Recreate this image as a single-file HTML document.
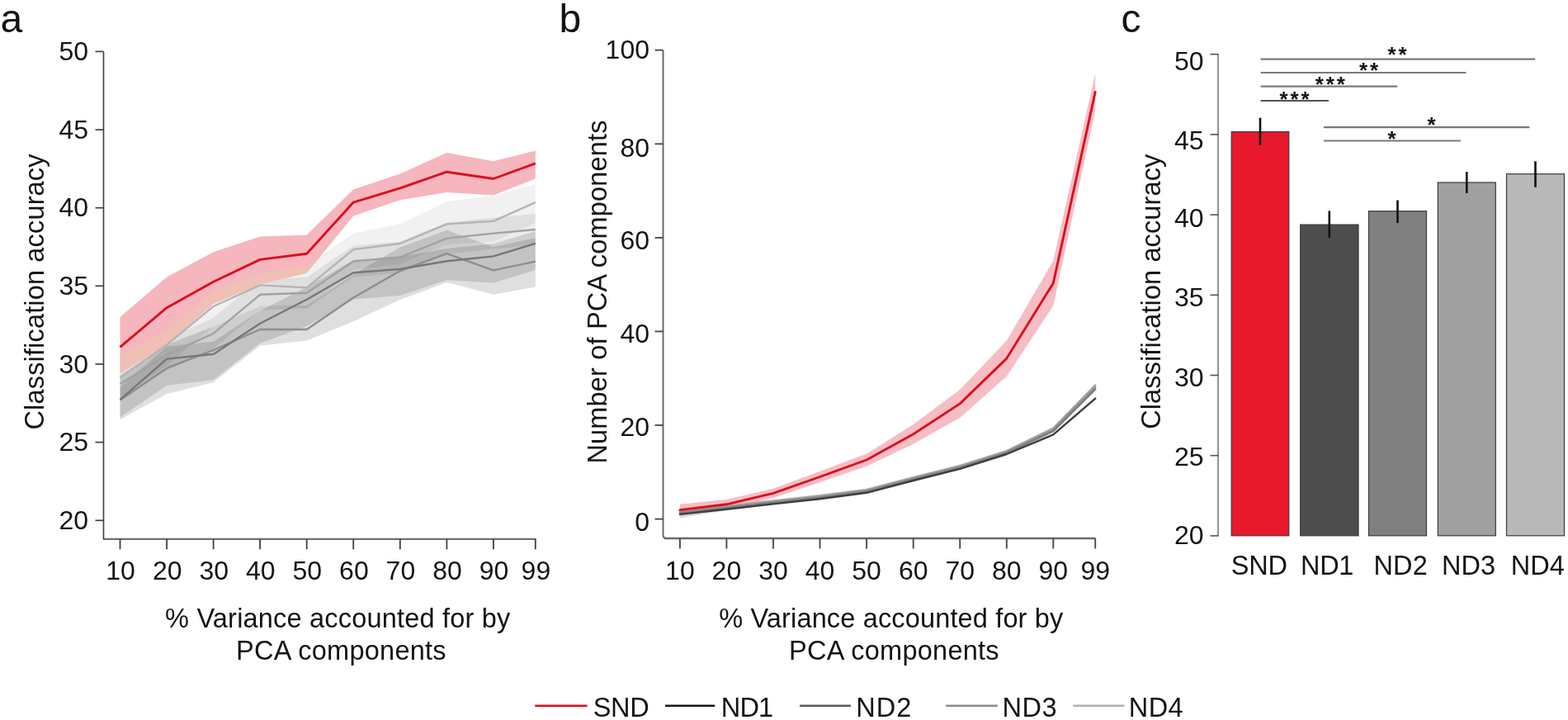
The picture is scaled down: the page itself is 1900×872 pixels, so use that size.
<!DOCTYPE html><html><head><meta charset="utf-8"><title>Figure</title>
<style>html,body{margin:0;padding:0;background:#fff;}svg{display:block;filter:blur(0.5px);}text{font-family:"Liberation Sans", Arial, sans-serif;fill:#141414;}</style></head><body>
<svg width="1900" height="872" viewBox="0 0 1900 872">
<rect width="1900" height="872" fill="#fff"/>
<text x="0.5" y="38.5" font-size="48">a</text>
<text x="677.5" y="38.8" font-size="48">b</text>
<text x="1358.5" y="38.5" font-size="48">c</text>
<defs><clipPath id="pk"><polygon points="145.5,384.0 202.1,335.6 258.6,305.3 315.1,286.5 371.7,284.4 428.2,229.6 484.8,210.4 541.4,184.9 597.9,195.3 648.8,182.6 648.8,216.5 597.9,236.6 541.4,233.0 484.8,242.2 428.2,261.5 371.7,330.8 315.1,344.1 258.6,368.1 202.1,417.0 145.5,452.2"/></clipPath></defs>
<g fill="#000">
<polygon points="145.5,469.0 202.1,419.4 258.6,413.7 315.1,376.6 371.7,347.7 428.2,315.1 484.8,310.8 541.4,301.1 597.9,295.2 648.8,279.7 648.8,327.0 597.9,342.6 541.4,339.2 484.8,358.1 428.2,362.4 371.7,395.0 315.1,415.8 258.6,460.1 202.1,466.7 145.5,505.4" fill-opacity="0.125"/>
<polygon points="145.5,456.1 202.1,417.5 258.6,395.6 315.1,370.6 371.7,370.6 428.2,332.2 484.8,299.6 541.4,278.8 597.9,299.0 648.8,288.2 648.8,347.5 597.9,356.8 541.4,342.0 484.8,363.0 428.2,389.3 371.7,412.6 315.1,418.7 258.6,463.0 202.1,477.0 145.5,508.2" fill-opacity="0.125"/>
<polygon points="145.5,445.9 202.1,410.7 258.6,385.0 315.1,337.8 371.7,335.7 428.2,297.5 484.8,292.6 541.4,269.7 597.9,263.6 648.8,259.1 648.8,296.9 597.9,301.5 541.4,307.5 484.8,330.4 428.2,335.4 371.7,373.6 315.1,375.7 258.6,422.8 202.1,448.6 145.5,483.8" fill-opacity="0.075"/>
<polygon points="145.5,429.6 202.1,402.2 258.6,351.5 315.1,331.2 371.7,321.7 428.2,282.4 484.8,271.2 541.4,244.1 597.9,237.1 648.8,222.7 648.8,269.7 597.9,292.4 541.4,296.0 484.8,319.7 428.2,326.7 371.7,373.0 315.1,370.0 258.6,395.6 202.1,442.3 145.5,481.7" fill-opacity="0.055"/>
</g>
<polygon points="145.5,384.0 202.1,335.6 258.6,305.3 315.1,286.5 371.7,284.4 428.2,229.6 484.8,210.4 541.4,184.9 597.9,195.3 648.8,182.6 648.8,216.5 597.9,236.6 541.4,233.0 484.8,242.2 428.2,261.5 371.7,330.8 315.1,344.1 258.6,368.1 202.1,417.0 145.5,452.2" fill="#f6b6be"/>
<g clip-path="url(#pk)"><polygon points="145.5,429.6 202.1,402.2 258.6,351.5 315.1,331.2 371.7,321.7 428.2,282.4 484.8,271.2 541.4,244.1 597.9,237.1 648.8,222.7 648.8,347.5 597.9,356.8 541.4,342.0 484.8,363.0 428.2,389.3 371.7,412.6 315.1,418.7 258.6,463.0 202.1,477.0 145.5,508.2" fill="#f0c0b6"/></g>
<g fill="none" stroke-width="2.4" stroke-linejoin="round">
<polyline points="145.5,457.1 202.1,417.7 258.6,371.0 315.1,345.4 371.7,348.4 428.2,302.1 484.8,295.0 541.4,271.4 597.9,267.8 648.8,245.1" stroke="#b4b4b4"/>
<polyline points="145.5,464.9 202.1,429.6 258.6,403.9 315.1,356.8 371.7,354.7 428.2,316.4 484.8,311.5 541.4,288.6 597.9,282.6 648.8,278.0" stroke="#a2a2a2"/>
<polyline points="145.5,484.5 202.1,445.9 258.6,424.0 315.1,399.0 371.7,399.0 428.2,360.5 484.8,328.0 541.4,307.2 597.9,327.4 648.8,316.6" stroke="#8e8e8e"/>
<polyline points="145.5,484.2 202.1,434.6 258.6,428.9 315.1,391.8 371.7,362.8 428.2,330.3 484.8,325.9 541.4,316.3 597.9,310.4 648.8,294.9" stroke="#777777"/>
<polyline points="145.5,420.4 202.1,372.7 258.6,341.2 315.1,314.4 371.7,307.2 428.2,245.1 484.8,227.8 541.4,208.2 597.9,216.5 648.8,197.9" stroke="#dc0f1e" stroke-width="2.9"/>
</g>
<g fill="none">
<path d="M125.5,652.9 H649.5" stroke="#707070" stroke-width="2.3"/>
<path d="M125.5,62.4 V653.5" stroke="#3c3c3c" stroke-width="1.6"/>
<path d="M115.5,630.3 H125.5" stroke="#404040" stroke-width="1.7"/>
<path d="M115.5,535.6 H125.5" stroke="#404040" stroke-width="1.7"/>
<path d="M115.5,441.0 H125.5" stroke="#404040" stroke-width="1.7"/>
<path d="M115.5,346.3 H125.5" stroke="#404040" stroke-width="1.7"/>
<path d="M115.5,251.7 H125.5" stroke="#404040" stroke-width="1.7"/>
<path d="M115.5,157.1 H125.5" stroke="#404040" stroke-width="1.7"/>
<path d="M115.5,62.4 H125.5" stroke="#404040" stroke-width="1.7"/>
<path d="M145.5,652.9 V665.3" stroke="#404040" stroke-width="1.8"/>
<path d="M202.1,652.9 V665.3" stroke="#404040" stroke-width="1.8"/>
<path d="M258.6,652.9 V665.3" stroke="#404040" stroke-width="1.8"/>
<path d="M315.1,652.9 V665.3" stroke="#404040" stroke-width="1.8"/>
<path d="M371.7,652.9 V665.3" stroke="#404040" stroke-width="1.8"/>
<path d="M428.2,652.9 V665.3" stroke="#404040" stroke-width="1.8"/>
<path d="M484.8,652.9 V665.3" stroke="#404040" stroke-width="1.8"/>
<path d="M541.4,652.9 V665.3" stroke="#404040" stroke-width="1.8"/>
<path d="M597.9,652.9 V665.3" stroke="#404040" stroke-width="1.8"/>
<path d="M648.8,652.9 V665.3" stroke="#404040" stroke-width="1.8"/>
</g>
<text x="107" y="641.0" font-size="32" text-anchor="end">20</text>
<text x="107" y="546.4" font-size="32" text-anchor="end">25</text>
<text x="107" y="451.7" font-size="32" text-anchor="end">30</text>
<text x="107" y="357.0" font-size="32" text-anchor="end">35</text>
<text x="107" y="262.4" font-size="32" text-anchor="end">40</text>
<text x="107" y="167.8" font-size="32" text-anchor="end">45</text>
<text x="107" y="73.1" font-size="32" text-anchor="end">50</text>
<text x="146.1" y="701.8" font-size="32" text-anchor="middle">10</text>
<text x="202.7" y="701.8" font-size="32" text-anchor="middle">20</text>
<text x="259.2" y="701.8" font-size="32" text-anchor="middle">30</text>
<text x="315.8" y="701.8" font-size="32" text-anchor="middle">40</text>
<text x="372.3" y="701.8" font-size="32" text-anchor="middle">50</text>
<text x="428.9" y="701.8" font-size="32" text-anchor="middle">60</text>
<text x="485.4" y="701.8" font-size="32" text-anchor="middle">70</text>
<text x="542.0" y="701.8" font-size="32" text-anchor="middle">80</text>
<text x="598.5" y="701.8" font-size="32" text-anchor="middle">90</text>
<text x="649.4" y="701.8" font-size="32" text-anchor="middle">99</text>
<text transform="translate(52.50,520.52) rotate(-90)" x="0" y="0" font-size="32.5" textLength="334.03" lengthAdjust="spacing">Classification accuracy</text>
<text x="200.06" y="759.80" font-size="32.5" textLength="418.18" lengthAdjust="spacing">% Variance accounted for by</text>
<text x="286.12" y="799.20" font-size="32.5" textLength="254.49" lengthAdjust="spacing">PCA components</text>
<polygon points="823.9,613.3 880.4,610.1 937.0,605.0 993.5,598.8 1050.1,591.4 1106.7,576.6 1163.2,562.4 1219.8,544.6 1276.3,517.0 1327.2,464.5 1327.2,473.6 1276.3,523.8 1219.8,550.3 1163.2,568.1 1106.7,582.3 1050.1,597.1 993.5,604.5 937.0,610.7 880.4,618.1 823.9,627.5" fill="#000" fill-opacity="0.14"/>
<polygon points="823.9,610.8 880.4,605.1 937.0,591.7 993.5,570.7 1050.1,549.4 1106.7,513.9 1163.2,471.9 1219.8,412.5 1276.3,315.7 1327.2,88.7 1327.2,134.1 1276.3,370.2 1219.8,455.7 1163.2,505.9 1106.7,537.7 1050.1,564.7 993.5,584.3 937.0,603.0 880.4,616.5 823.9,624.4" fill="#f6b6be" fill-opacity="0.9"/>
<g fill="none" stroke-linejoin="round" stroke-linecap="round" stroke-width="2.4">
<polyline points="823.9,619.2 880.4,613.0 937.0,606.7 993.5,600.5 1050.1,593.1 1106.7,578.3 1163.2,564.1 1219.8,546.3 1276.3,518.7 1327.2,466.7" stroke="#a6a6a6"/>
<polyline points="823.9,620.4 880.4,614.1 937.0,607.9 993.5,601.6 1050.1,594.2 1106.7,579.5 1163.2,565.3 1219.8,547.4 1276.3,520.4 1327.2,469.0" stroke="#939393"/>
<polyline points="823.9,621.5 880.4,615.3 937.0,609.0 993.5,602.8 1050.1,595.4 1106.7,580.6 1163.2,566.4 1219.8,548.6 1276.3,522.1 1327.2,471.3" stroke="#7e7e7e"/>
<polyline points="823.9,622.9 880.4,616.7 937.0,610.4 993.5,604.2 1050.1,596.8 1106.7,582.0 1163.2,567.8 1219.8,550.0 1276.3,526.4 1327.2,482.6" stroke="#3e3e3e"/>
<polyline points="823.9,617.6 880.4,610.8 937.0,597.4 993.5,577.5 1050.1,557.0 1106.7,525.8 1163.2,488.9 1219.8,434.1 1276.3,342.9 1327.2,111.4" stroke="#dc0f1e" stroke-width="2.9"/>
</g>
<g fill="none">
<path d="M803.5,60.7 V648 Q803.5,652 807.5,652 H1327.2" stroke="#6a6a6a" stroke-width="2.0"/>
<path d="M805,652 H1327.2" stroke="#6a6a6a" stroke-width="2.3"/>
<path d="M793.5,628.6 H803.5" stroke="#444" stroke-width="1.8"/>
<path d="M793.5,515.0 H803.5" stroke="#444" stroke-width="1.8"/>
<path d="M793.5,401.4 H803.5" stroke="#444" stroke-width="1.8"/>
<path d="M793.5,287.9 H803.5" stroke="#444" stroke-width="1.8"/>
<path d="M793.5,174.3 H803.5" stroke="#444" stroke-width="1.8"/>
<path d="M793.5,60.7 H803.5" stroke="#444" stroke-width="1.8"/>
<path d="M823.9,652 V664.5" stroke="#4a4a4a" stroke-width="1.9"/>
<path d="M880.4,652 V664.5" stroke="#4a4a4a" stroke-width="1.9"/>
<path d="M937.0,652 V664.5" stroke="#4a4a4a" stroke-width="1.9"/>
<path d="M993.5,652 V664.5" stroke="#4a4a4a" stroke-width="1.9"/>
<path d="M1050.1,652 V664.5" stroke="#4a4a4a" stroke-width="1.9"/>
<path d="M1106.7,652 V664.5" stroke="#4a4a4a" stroke-width="1.9"/>
<path d="M1163.2,652 V664.5" stroke="#4a4a4a" stroke-width="1.9"/>
<path d="M1219.8,652 V664.5" stroke="#4a4a4a" stroke-width="1.9"/>
<path d="M1276.3,652 V664.5" stroke="#4a4a4a" stroke-width="1.9"/>
<path d="M1327.2,652 V664.5" stroke="#4a4a4a" stroke-width="1.9"/>
</g>
<text x="787" y="642.9" font-size="32" text-anchor="end">0</text>
<text x="787" y="528.2" font-size="32" text-anchor="end">20</text>
<text x="787" y="414.9" font-size="32" text-anchor="end">40</text>
<text x="787" y="302.0" font-size="32" text-anchor="end">60</text>
<text x="787" y="190.1" font-size="32" text-anchor="end">80</text>
<text x="787" y="70.7" font-size="32" text-anchor="end">100</text>
<text x="823.9" y="701.8" font-size="32" text-anchor="middle">10</text>
<text x="880.4" y="701.8" font-size="32" text-anchor="middle">20</text>
<text x="937.0" y="701.8" font-size="32" text-anchor="middle">30</text>
<text x="993.5" y="701.8" font-size="32" text-anchor="middle">40</text>
<text x="1050.1" y="701.8" font-size="32" text-anchor="middle">50</text>
<text x="1106.7" y="701.8" font-size="32" text-anchor="middle">60</text>
<text x="1163.2" y="701.8" font-size="32" text-anchor="middle">70</text>
<text x="1219.8" y="701.8" font-size="32" text-anchor="middle">80</text>
<text x="1276.3" y="701.8" font-size="32" text-anchor="middle">90</text>
<text x="1327.2" y="701.8" font-size="32" text-anchor="middle">99</text>
<text transform="translate(734.50,561.58) rotate(-90)" x="0" y="0" font-size="32.5" textLength="416.04" lengthAdjust="spacing">Number of PCA components</text>
<text x="871.16" y="759.80" font-size="32.5" textLength="417.08" lengthAdjust="spacing">% Variance accounted for by</text>
<text x="956.12" y="799.20" font-size="32.5" textLength="254.49" lengthAdjust="spacing">PCA components</text>
<rect x="1492.2" y="159.6" width="69.6" height="489.2" fill="#e8192c" stroke="#3a3a3a" stroke-width="1.2"/>
<path d="M1527.0,142.7 V175.7" stroke="#111" stroke-width="2.6"/>
<text x="1491.64" y="695.80" font-size="32.5" textLength="68.27" lengthAdjust="spacing">SND</text>
<rect x="1575.7" y="272.1" width="70.3" height="376.7" fill="#4d4d4d" stroke="#3a3a3a" stroke-width="1.2"/>
<path d="M1610.8,255.4 V287.8" stroke="#111" stroke-width="2.6"/>
<text x="1576.12" y="695.80" font-size="32.5" textLength="64.14" lengthAdjust="spacing">ND1</text>
<rect x="1658.5" y="255.7" width="70.0" height="393.1" fill="#808080" stroke="#3a3a3a" stroke-width="1.2"/>
<path d="M1693.5,242.5 V270.1" stroke="#111" stroke-width="2.6"/>
<text x="1664.52" y="695.80" font-size="32.5" textLength="65.22" lengthAdjust="spacing">ND2</text>
<rect x="1742.3" y="221.0" width="70.0" height="427.8" fill="#a0a0a0" stroke="#3a3a3a" stroke-width="1.2"/>
<path d="M1777.3,208.2 V233.9" stroke="#111" stroke-width="2.6"/>
<text x="1747.12" y="695.80" font-size="32.5" textLength="64.98" lengthAdjust="spacing">ND3</text>
<rect x="1825.5" y="210.7" width="70.0" height="438.1" fill="#b9b9b9" stroke="#3a3a3a" stroke-width="1.2"/>
<path d="M1860.5,195.3 V226.8" stroke="#111" stroke-width="2.6"/>
<text x="1830.72" y="695.80" font-size="32.5" textLength="65.19" lengthAdjust="spacing">ND4</text>
<g fill="none">
<path d="M1476,65.7 V649.3" stroke="#777" stroke-width="1.6"/>
<path d="M1466.5,648.9 H1476.5" stroke="#555" stroke-width="1.6"/>
<path d="M1466.5,551.7 H1476.5" stroke="#555" stroke-width="1.6"/>
<path d="M1466.5,454.5 H1476.5" stroke="#555" stroke-width="1.6"/>
<path d="M1466.5,357.3 H1476.5" stroke="#555" stroke-width="1.6"/>
<path d="M1466.5,260.1 H1476.5" stroke="#555" stroke-width="1.6"/>
<path d="M1466.5,162.9 H1476.5" stroke="#555" stroke-width="1.6"/>
<path d="M1466.5,65.7 H1476.5" stroke="#555" stroke-width="1.6"/>
</g>
<text x="1458.5" y="85.3" font-size="32" text-anchor="end">50</text>
<text x="1458.5" y="180.9" font-size="32" text-anchor="end">45</text>
<text x="1458.5" y="274.9" font-size="32" text-anchor="end">40</text>
<text x="1458.5" y="371.3" font-size="32" text-anchor="end">35</text>
<text x="1458.5" y="467.5" font-size="32" text-anchor="end">30</text>
<text x="1458.5" y="564.4" font-size="32" text-anchor="end">25</text>
<text x="1458.5" y="658.9" font-size="32" text-anchor="end">20</text>
<path d="M1527.6,71.6 H1860.1" stroke="#7a7a7a" stroke-width="2.2"/>
<text x="1681.5" y="75.1" font-size="26" font-weight="bold" letter-spacing="2.9">**</text>
<path d="M1527.6,88.0 H1776.6" stroke="#7a7a7a" stroke-width="2.2"/>
<text x="1646.9" y="94.3" font-size="26" font-weight="bold" letter-spacing="2.9">**</text>
<path d="M1527.6,104.7 H1693.1" stroke="#7a7a7a" stroke-width="2.2"/>
<text x="1593.8" y="111.2" font-size="26" font-weight="bold" letter-spacing="2.9">***</text>
<path d="M1527.6,122.0 H1610.0" stroke="#1a1a1a" stroke-width="1.6"/>
<text x="1550.4" y="128.8" font-size="26" font-weight="bold" letter-spacing="2.9">***</text>
<path d="M1604.0,154.2 H1853.3" stroke="#7a7a7a" stroke-width="2.2"/>
<text x="1729.5" y="159.7" font-size="26" font-weight="bold" letter-spacing="2.9">*</text>
<path d="M1604.0,170.5 H1769.9" stroke="#7a7a7a" stroke-width="2.2"/>
<text x="1681.6" y="177.0" font-size="26" font-weight="bold" letter-spacing="2.9">*</text>
<text transform="translate(1406.00,519.83) rotate(-90)" x="0" y="0" font-size="32.5" textLength="333.13" lengthAdjust="spacing">Classification accuracy</text>
<path d="M648.3,854.7 H711.6" stroke="#dc0f1e" stroke-width="2.4"/>
<text x="718.64" y="867.80" font-size="32.5" textLength="68.17" lengthAdjust="spacing">SND</text>
<path d="M805.9,854.7 H866.3" stroke="#1a1a1a" stroke-width="2.4"/>
<text x="873.82" y="867.80" font-size="32.5" textLength="63.24" lengthAdjust="spacing">ND1</text>
<path d="M969.0,854.7 H1030.9" stroke="#5a5a5a" stroke-width="2.4"/>
<text x="1037.22" y="867.80" font-size="32.5" textLength="67.02" lengthAdjust="spacing">ND2</text>
<path d="M1146.2,854.7 H1208.8" stroke="#8c8c8c" stroke-width="2.4"/>
<text x="1214.42" y="867.80" font-size="32.5" textLength="66.28" lengthAdjust="spacing">ND3</text>
<path d="M1300.4,854.7 H1362.3" stroke="#b0b0b0" stroke-width="2.4"/>
<text x="1367.82" y="867.80" font-size="32.5" textLength="65.79" lengthAdjust="spacing">ND4</text>
</svg></body></html>
